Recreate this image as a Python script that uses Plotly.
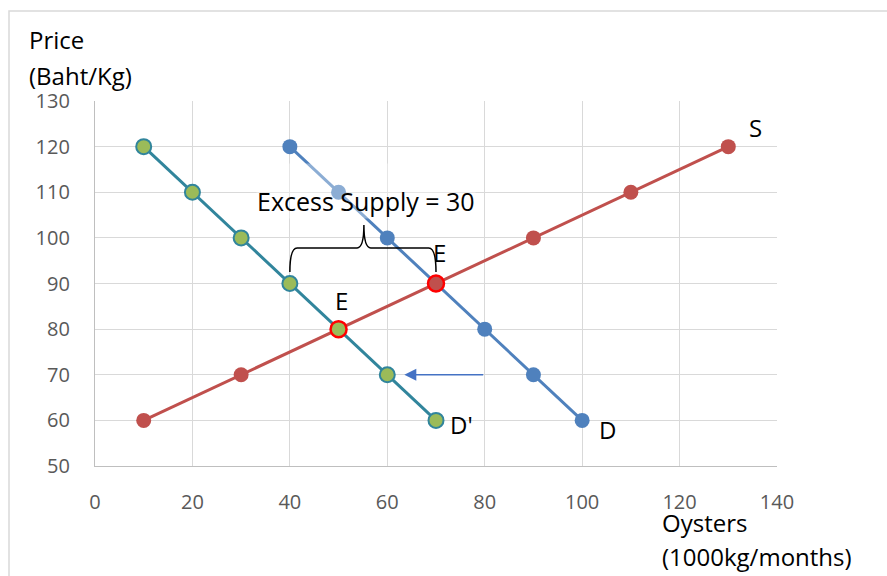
import plotly.graph_objects as go

# Data
s_qty = [10, 30, 50, 70, 90, 110, 130]
s_price = [60, 70, 80, 90, 100, 110, 120]
d_qty = [40, 50, 60, 70, 80, 90, 100]
d_price = [120, 110, 100, 90, 80, 70, 60]
d2_qty = [10, 20, 30, 40, 50, 60, 70]
d2_price = [120, 110, 100, 90, 80, 70, 60]
eq_qty = [70, 50]
eq_price = [90, 80]
excess_text = "Excess Supply = 30"
arrow_price = 70
arrow_from = 80
arrow_to = 63.5

RED = "#C0504D"
BLUE = "#4F81BD"
TEAL = "#31859C"
GREEN = "#9BBB59"
FONT = "Open Sans"

fig = go.Figure()
fig.add_trace(go.Scatter(x=s_qty, y=s_price, mode="lines+markers",
                         line=dict(color=RED, width=3),
                         marker=dict(color=RED, size=15)))
fig.add_trace(go.Scatter(x=d_qty, y=d_price, mode="lines+markers",
                         line=dict(color=BLUE, width=3),
                         marker=dict(color=BLUE, size=15)))
fig.add_trace(go.Scatter(x=d2_qty, y=d2_price, mode="lines+markers",
                         line=dict(color=TEAL, width=3),
                         marker=dict(color=GREEN, size=15, line=dict(color=TEAL, width=2))))
fig.add_trace(go.Scatter(x=[eq_qty[0]], y=[eq_price[0]], mode="markers",
                         marker=dict(color=RED, size=16, line=dict(color="#FF0000", width=2.5))))
fig.add_trace(go.Scatter(x=[eq_qty[1]], y=[eq_price[1]], mode="markers",
                         marker=dict(color=GREEN, size=16, line=dict(color="#FF0000", width=2.5))))

# brace between D' and D at the original equilibrium price
p = eq_price[0]
xl = d2_qty[d2_price.index(p)]
xr = d_qty[d_price.index(p)]
xm = (xl + xr) / 2 + 0.2
yb = p + 2.5
yh = p + 7.8
yt = p + 12.8
path = (f"M {xl},{yb} Q {xl},{yh} {xl+1.5},{yh} L {xm-1.4},{yh} "
        f"Q {xm},{yh} {xm},{yt} Q {xm},{yh} {xm+1.4},{yh} "
        f"L {xr-1.5},{yh} Q {xr},{yh} {xr},{yb}")
fig.add_shape(type="path", path=path, xref="x", yref="y",
              line=dict(color="black", width=1.5))

# outer chart border
fig.add_shape(type="rect", xref="paper", yref="paper",
              x0=(9-95)/682, x1=(905-95)/682, y0=-0.5, y1=1+(101-11)/365,
              line=dict(color="#D9D9D9", width=1.5), layer="below")

ann = []
ann.append(dict(x=xm + 0.4, y=110.3, xref="x", yref="y", text=excess_text,
                showarrow=False, font=dict(size=25, color="black", family=FONT),
                height=54, valign="bottom", borderpad=0,
                bgcolor="rgba(255,255,255,0.35)"))
ann.append(dict(x=arrow_to, y=arrow_price, ax=arrow_from, ay=arrow_price,
                xref="x", yref="y", axref="x", ayref="y", text="",
                showarrow=True, arrowhead=2, arrowsize=1.6, arrowwidth=1.5,
                arrowcolor="#4472C4"))
labels = [("S", 135.5, 124.1), ("D", 105.3, 57.9), ("D'", 75.3, 59.0),
          ("E", 70.8, 96.7), ("E", 50.7, 86.2)]
for t, x, y in labels:
    ann.append(dict(x=x, y=y, xref="x", yref="y", text=t, showarrow=False,
                    font=dict(size=24, color="black", family=FONT)))
for t, px, py in [("Price", 27, 40), ("(Baht/Kg)", 27, 76),
                  ("Oysters", 660, 522), ("(1000kg/months)", 660, 556)]:
    ann.append(dict(x=(px-95)/682, y=(466-py)/365, xref="paper", yref="paper",
                    text=t, showarrow=False, xanchor="left", yanchor="middle",
                    font=dict(size=24, color="black", family=FONT)))

fig.update_layout(
    width=887, height=576,
    margin=dict(l=95, r=110, t=101, b=110),
    paper_bgcolor="white", plot_bgcolor="white",
    showlegend=False,
    annotations=ann,
    font=dict(family=FONT),
)
fig.update_xaxes(range=[0, 140], dtick=20, tick0=0, showgrid=True,
                 gridcolor="#D9D9D9", gridwidth=1.3, showline=True,
                 linecolor="#BFBFBF", linewidth=1.3, zeroline=False,
                 ticks="outside", ticklen=0, ticklabelstandoff=18,
                 tickfont=dict(size=20, color="#595959", family=FONT))
fig.update_yaxes(range=[50, 130], dtick=10, tick0=50, showgrid=True,
                 gridcolor="#D9D9D9", gridwidth=1.3, showline=True,
                 linecolor="#BFBFBF", linewidth=1.3, zeroline=False,
                 ticks="outside", ticklen=0, ticklabelstandoff=20,
                 tickfont=dict(size=20, color="#595959", family=FONT))

fig.write_html("out.html")
